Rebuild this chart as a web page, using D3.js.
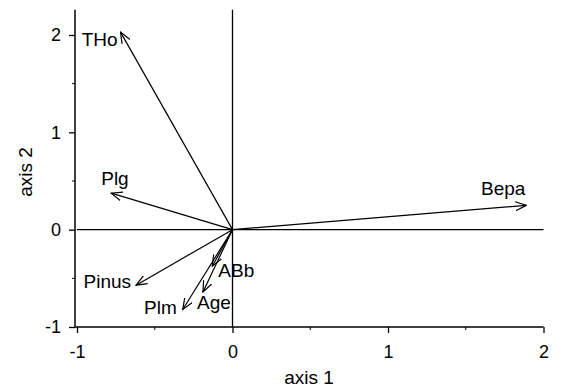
<!DOCTYPE html>
<html>
<head>
<meta charset="utf-8">
<script src="https://cdn.jsdelivr.net/npm/d3@7"></script>
<style>
  body { margin: 0; background: #fff; }
  text { font-family: "Liberation Sans", Arial, sans-serif; fill: #000; }
</style>
</head>
<body>
<div id="chart"></div>
<script>
// biplot vectors
const names = ["THo", "Plg", "Bepa", "Pinus", "Plm", "Age", "ABb"];
const axis1 = [-0.72, -0.78, 1.89, -0.62, -0.32, -0.19, -0.13];
const axis2 = [2.03, 0.375, 0.25, -0.57, -0.82, -0.64, -0.375];
const majorTicks = [-1, 0, 1, 2];
const minorTicks = [-0.5, 0.5, 1.5];

const vectors = names.map((n, i) => ({ name: n, x: axis1[i], y: axis2[i] }));

// where each label sits next to its arrow tip
const labelPos = {
  THo:   { anchor: "end",   dx: -3, dy: 14 },
  Plg:   { anchor: "start", dx: -10, dy: -8 },
  Bepa:  { anchor: "end",   dx: -1, dy: -10 },
  Pinus: { anchor: "end",   dx: -5, dy: 3 },
  Plm:   { anchor: "end",   dx: -6, dy: 5 },
  Age:   { anchor: "start", dx: -6, dy: 17 },
  ABb:   { anchor: "start", dx: 6, dy: 11 }
};

const svg = d3.select("#chart")
  .append("svg")
    .attr("width", 561)
    .attr("height", 388);

const x = d3.scaleLinear().domain([-1, 2]).range([77, 543.5]);
const y = d3.scaleLinear().domain([-1, 2]).range([327, 35]);

svg.append("defs").append("marker")
    .attr("id", "head")
    .attr("viewBox", "0 0 12 10")
    .attr("refX", 11)
    .attr("refY", 5)
    .attr("markerWidth", 12)
    .attr("markerHeight", 10)
    .attr("markerUnits", "userSpaceOnUse")
    .attr("orient", "auto")
  .append("path")
    .attr("d", "M0,0.5 L11,5 L0,9.5")
    .attr("fill", "none")
    .attr("stroke", "#000")
    .attr("stroke-width", 1.2);

// zero lines
svg.append("line")
    .attr("x1", x(-1)).attr("x2", x(2))
    .attr("y1", y(0)).attr("y2", y(0))
    .attr("stroke", "#000").attr("stroke-width", 1.3);
svg.append("line")
    .attr("x1", x(0)).attr("x2", x(0))
    .attr("y1", y(2.26)).attr("y2", y(-1))
    .attr("stroke", "#000").attr("stroke-width", 1.3);

// x axis
const xAxis = svg.append("g").attr("transform", `translate(0, ${y(-1)})`);
xAxis.call(d3.axisBottom(x).tickValues(majorTicks).tickFormat(d => String(d)).tickSize(6).tickPadding(12));
xAxis.selectAll(".minor").data(minorTicks).enter().append("line")
    .attr("x1", d => x(d)).attr("x2", d => x(d))
    .attr("y1", 0).attr("y2", 3)
    .attr("stroke", "#000");

// y axis
const yAxis = svg.append("g").attr("transform", `translate(${x(-1) - 2}, 0)`);
yAxis.call(d3.axisLeft(y).tickValues(majorTicks).tickFormat(d => String(d)).tickSize(6).tickPadding(8));
yAxis.selectAll(".minor").data(minorTicks).enter().append("line")
    .attr("y1", d => y(d)).attr("y2", d => y(d))
    .attr("x1", 0).attr("x2", -3)
    .attr("stroke", "#000");

svg.selectAll(".domain").remove();
svg.append("line")
    .attr("x1", x(-1) - 2).attr("x2", x(-1) - 2)
    .attr("y1", y(2.26)).attr("y2", y(-1))
    .attr("stroke", "#000").attr("stroke-width", 1.5);
svg.append("line")
    .attr("x1", x(-1) - 2).attr("x2", x(2))
    .attr("y1", y(-1)).attr("y2", y(-1))
    .attr("stroke", "#000").attr("stroke-width", 1.5);

svg.selectAll(".tick line").attr("stroke-width", 1.3);
svg.selectAll(".tick text")
    .attr("font-size", "18px")
    .attr("font-family", "Liberation Sans, Arial, sans-serif");

// arrows
svg.selectAll(".vec")
  .data(vectors)
  .enter()
  .append("line")
    .attr("class", "vec")
    .attr("x1", x(0))
    .attr("y1", y(0))
    .attr("x2", d => x(d.x))
    .attr("y2", d => y(d.y))
    .attr("stroke", "#000")
    .attr("stroke-width", 1.2)
    .attr("marker-end", "url(#head)");

svg.selectAll(".lab")
  .data(vectors)
  .enter()
  .append("text")
    .attr("class", "lab")
    .attr("x", d => x(d.x) + labelPos[d.name].dx)
    .attr("y", d => y(d.y) + labelPos[d.name].dy)
    .attr("text-anchor", d => labelPos[d.name].anchor)
    .attr("font-size", "19px")
    .text(d => d.name);

// axis titles
svg.append("text")
    .attr("x", 309)
    .attr("y", 384)
    .attr("text-anchor", "middle")
    .attr("font-size", "19px")
    .text("axis 1");

svg.append("text")
    .attr("transform", "translate(32, 172) rotate(-90)")
    .attr("text-anchor", "middle")
    .attr("font-size", "19px")
    .text("axis 2");
</script>
</body>
</html>
